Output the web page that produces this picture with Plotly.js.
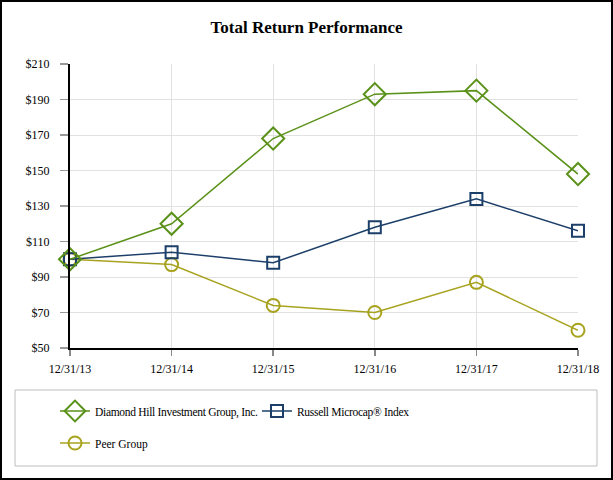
<!DOCTYPE html>
<html>
<head>
<meta charset="utf-8">
<script src="https://cdn.plot.ly/plotly-3.0.1.min.js"></script>
<style>
html,body{margin:0;padding:0;background:#fff;}
#chart{width:613px;height:480px;}
#chart .legendtext{letter-spacing:-0.3px;}
</style>
</head>
<body>
<div id="chart"></div>
<script>
const categories = ["12/31/13","12/31/14","12/31/15","12/31/16","12/31/17","12/31/18"];
const diamondHill = [100, 120, 168, 193, 195, 148];
const russellMicrocap = [100, 104, 98, 118, 134, 116];
const peerGroup = [100, 97, 74, 70, 87, 60];
const yTickVals = [50, 70, 90, 110, 130, 150, 170, 190, 210];
const yTickText = ["$50","$70","$90","$110","$130","$150","$170","$190","$210"];

const W = 613, H = 480, ML = 70, MR = 35, MT = 64, MB = 132;
const PW = W - ML - MR, PH = H - MT - MB;
const px = x => (x - ML) / PW;
const py = y => (H - MB - y) / PH;

const fontFam = '"Liberation Serif", "Times New Roman", serif';

const traces = [
  {
    x: categories, y: peerGroup, name: "Peer Group", type: "scatter", mode: "lines+markers",
    line: {color: "#a8a31f", width: 1.5},
    marker: {symbol: "circle-open", size: 13, color: "#a8a31f", line: {width: 2, color: "#a8a31f"}},
    cliponaxis: false, legend: "legend2"
  },
  {
    x: categories, y: russellMicrocap, name: "Russell Microcap® Index", type: "scatter", mode: "lines+markers",
    line: {color: "#1c3f6a", width: 1.5},
    marker: {symbol: "square-open", size: 12, color: "#1c3f6a", line: {width: 2, color: "#1c3f6a"}},
    cliponaxis: false, legend: "legend", legendrank: 2
  },
  {
    x: categories, y: diamondHill, name: "Diamond Hill Investment Group, Inc.", type: "scatter", mode: "lines+markers",
    line: {color: "#5a9119", width: 1.5},
    marker: {symbol: "diamond-open", size: 17, color: "#5a9119", line: {width: 2, color: "#5a9119"}},
    cliponaxis: false, legend: "legend", legendrank: 1
  }
];

const layout = {
  width: W, height: H,
  margin: {l: ML, r: MR, t: MT, b: MB},
  paper_bgcolor: "#ffffff", plot_bgcolor: "#ffffff",
  font: {family: fontFam, size: 12, color: "#000"},
  title: {text: "<b>Total Return Performance</b>", font: {family: fontFam, size: 17, color: "#000"},
          x: 0.5, xanchor: "center", y: 1 - 27/H, yanchor: "middle"},
  xaxis: {
    type: "category", range: [0, 5], showgrid: true, gridcolor: "#e2e2e2", gridwidth: 1,
    showline: true, linecolor: "#000", linewidth: 2, ticks: "outside", ticklen: 6, tickcolor: "#888", tickwidth: 1.5,
    ticklabelstandoff: 3,
    tickfont: {family: fontFam, size: 12, color: "#000"}, zeroline: false, fixedrange: true
  },
  yaxis: {
    range: [50, 210], tickvals: yTickVals, ticktext: yTickText, showgrid: true, gridcolor: "#e2e2e2", gridwidth: 1,
    showline: true, linecolor: "#000", linewidth: 2, ticks: "outside", ticklen: 8, tickcolor: "#999", tickwidth: 1.5,
    ticklabelstandoff: 8,
    tickfont: {family: fontFam, size: 12, color: "#000"}, zeroline: false, fixedrange: true
  },
  showlegend: true,
  legend: {
    orientation: "h", x: px(55), xanchor: "left", y: py(411), yanchor: "middle",
    font: {family: fontFam, size: 11.5, color: "#000"}, bgcolor: "rgba(0,0,0,0)", borderwidth: 0,
    entrywidth: 157, entrywidthmode: "pixels", traceorder: "normal"
  },
  legend2: {
    orientation: "h", x: px(55), xanchor: "left", y: py(443), yanchor: "middle",
    font: {family: fontFam, size: 11.5, color: "#000"}, bgcolor: "rgba(0,0,0,0)", borderwidth: 0
  },
  shapes: [
    {type: "rect", xref: "paper", yref: "paper", x0: px(1), x1: px(612), y0: py(479), y1: py(1),
     line: {color: "#000", width: 2}, fillcolor: "rgba(0,0,0,0)", layer: "below"},
    {type: "rect", xref: "paper", yref: "paper", x0: px(15), x1: px(597), y0: py(466), y1: py(390),
     line: {color: "#bdbdbd", width: 1}, fillcolor: "rgba(0,0,0,0)", layer: "below"}
  ]
};

Plotly.newPlot("chart", traces, layout, {displayModeBar: false, staticPlot: true});
</script>
</body>
</html>
